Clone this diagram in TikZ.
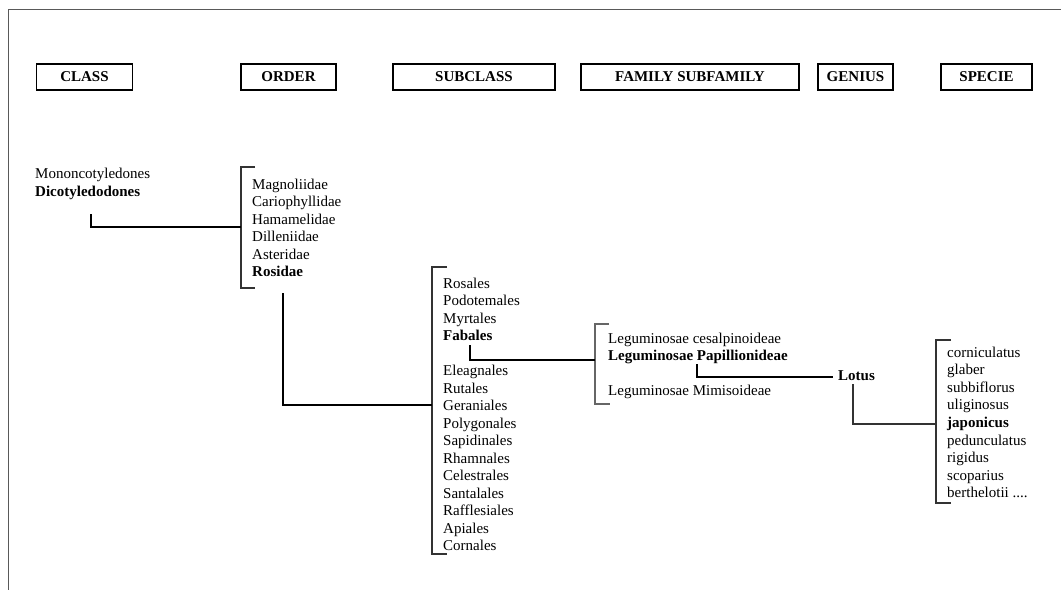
\documentclass[tikz,border=0pt]{standalone}
\usepackage{fontspec}
\setmainfont{Liberation Serif}
\begin{document}
\begin{tikzpicture}[x=1pt,y=-1pt,
  every node/.style={inner sep=0pt},
  item/.style={anchor=base west, font=\fontsize{15}{17}\selectfont},
  bolditem/.style={anchor=base west, font=\fontsize{15}{17}\selectfont\bfseries},
  head/.style={draw, line width=1.4pt, minimum height=26pt, font=\fontsize{15}{17}\selectfont\bfseries},
  link/.style={line width=1.1pt},
  bracket/.style={line width=1.1pt, draw=black!80},
  frame/.style={line width=1.8pt, draw=black!65}]
\useasboundingbox (0,0) rectangle (1061,590);
% frame
\coordinate (ftr) at (1061,9.5);
\coordinate (ftl) at (8.5,9.5);
\coordinate (fbl) at (8.5,590);
\draw[frame] (ftr) -- (ftl) -- (fbl);
% headers
\node[head, minimum width=96pt] (hclass) at (84.5,77) {CLASS};
\node[head, minimum width=95pt] (horder) at (288.5,77) {ORDER};
\node[head, minimum width=162pt] (hsub) at (474,77) {SUBCLASS};
\node[head, minimum width=218pt] (hfam) at (690,77) {FAMILY SUBFAMILY};
\node[head, minimum width=75pt] (hgen) at (855.5,77) {GENIUS};
\node[head, minimum width=91pt] (hspe) at (986.5,77) {SPECIE};
% class
\node[item] (mono) at (35,178) {Mononcotyledones};
\node[bolditem] (dico) at (35,196) {Dicotyledodones};
% order
\node[item] (o1) at (252,189) {Magnoliidae};
\node[item] (o2) at (252,206.5) {Cariophyllidae};
\node[item] (o3) at (252,224) {Hamamelidae};
\node[item] (o4) at (252,241.5) {Dilleniidae};
\node[item] (o5) at (252,259) {Asteridae};
\node[bolditem] (o6) at (252,276.5) {Rosidae};
% subclass
\node[item] (s1) at (443,288) {Rosales};
\node[item] (s2) at (443,305.5) {Podotemales};
\node[item] (s3) at (443,323) {Myrtales};
\node[bolditem] (s4) at (443,340.5) {Fabales};
\node[item] (s5) at (443,375.5) {Eleagnales};
\node[item] (s6) at (443,393) {Rutales};
\node[item] (s7) at (443,410.5) {Geraniales};
\node[item] (s8) at (443,428) {Polygonales};
\node[item] (s9) at (443,445.5) {Sapidinales};
\node[item] (s10) at (443,463) {Rhamnales};
\node[item] (s11) at (443,480.5) {Celestrales};
\node[item] (s12) at (443,498) {Santalales};
\node[item] (s13) at (443,515.5) {Rafflesiales};
\node[item] (s14) at (443,533) {Apiales};
\node[item] (s15) at (443,550.5) {Cornales};
% family
\node[item] (f1) at (608,343) {Leguminosae cesalpinoideae};
\node[bolditem] (f2) at (608,360.5) {Leguminosae Papillionideae};
\node[item] (f3) at (608,395.5) {Leguminosae Mimisoideae};
% genus
\node[bolditem] (lotus) at (838,380) {Lotus};
% species
\node[item] (p1) at (947,357) {corniculatus};
\node[item] (p2) at (947,374.6) {glaber};
\node[item] (p3) at (947,392.2) {subbiflorus};
\node[item] (p4) at (947,409.8) {uliginosus};
\node[bolditem] (p5) at (947,427.4) {japonicus};
\node[item] (p6) at (947,445) {pedunculatus};
\node[item] (p7) at (947,462.6) {rigidus};
\node[item] (p8) at (947,480.2) {scoparius};
\node[item] (p9) at (947,497.8) {berthelotii ....};
% brackets
\coordinate (obt) at (241,167); \coordinate (obb) at (241,288);
\draw[bracket] ([xshift=14pt]obt) -- (obt) -- (obb) -- ([xshift=14pt]obb);
\coordinate (sbt) at (432,267); \coordinate (sbb) at (432,554);
\draw[bracket] ([xshift=15pt]sbt) -- (sbt) -- (sbb) -- ([xshift=15pt]sbb);
\coordinate (fbt) at (595,324); \coordinate (fbb) at (595,404);
\draw[bracket, draw=black!60] ([xshift=14pt]fbt) -- (fbt) -- (fbb) -- ([xshift=15pt]fbb);
\coordinate (pbt) at (936,340); \coordinate (pbb) at (936,503);
\draw[bracket] ([xshift=15pt]pbt) -- (pbt) -- (pbb) -- ([xshift=15pt]pbb);
% connectors
\coordinate (c1a) at (91,214); \coordinate (c1b) at (241,227);
\draw[link] (c1a) |- (c1b);
\coordinate (c2a) at (283,293); \coordinate (c2b) at (432,405);
\draw[link] (c2a) |- (c2b);
\coordinate (c3a) at (470,345); \coordinate (c3b) at (595,360);
\draw[link] (c3a) |- (c3b);
\coordinate (c4a) at (697,364); \coordinate (c4b) at (833,377);
\draw[link] (c4a) |- (c4b);
\coordinate (c5a) at (853,384); \coordinate (c5b) at (936,424);
\draw[link, draw=black!80] (c5a) |- (c5b);
\end{tikzpicture}
\end{document}
